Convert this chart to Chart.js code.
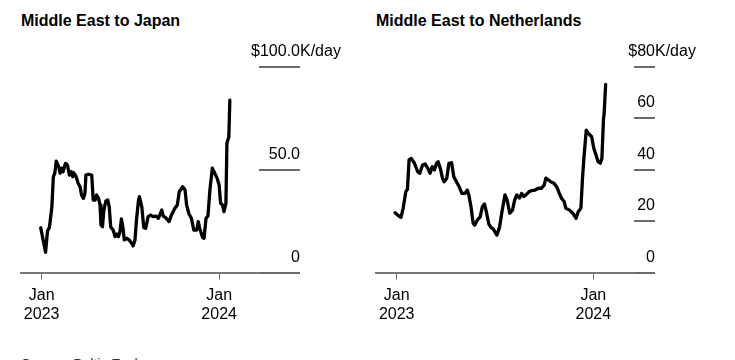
<!DOCTYPE html>
<html>
<head>
<meta charset="utf-8">
<script src="https://cdn.jsdelivr.net/npm/chart.js@4.4.1/dist/chart.umd.min.js"></script>
<style>
  html, body { margin: 0; padding: 0; background: #fff; }
  body { width: 735px; height: 360px; position: relative; overflow: hidden; font-family: "Liberation Sans", Arial, sans-serif; }
  .title { position: absolute; top: 10.5px; font-weight: bold; font-size: 16px; line-height: 20px; color: #000; white-space: nowrap; }
  .source { position: absolute; left: 21px; top: 354px; font-size: 14px; line-height: 20px; color: #333; white-space: nowrap; }
  canvas { position: absolute; top: 0; }
</style>
</head>
<body>
<div class="title" style="left:21px">Middle East to Japan</div>
<div class="title" style="left:376px">Middle East to Netherlands</div>
<div class="source">Source: Baltic Exchange</div>
<canvas id="c1" width="367" height="360" style="left:0;width:367px;height:360px"></canvas>
<canvas id="c2" width="368" height="360" style="left:367px;width:368px;height:360px"></canvas>
<script>
// ---- Data (days counted from 1 Jan 2023) ----
const xTickDays = [0, 365];
const xTickLabels = [["Jan", "2023"], ["Jan", "2024"]];

const japanDays = [-2,3,8,12,16,21,24,27,30,35,38,41,44,49,53,57,61,64,66,71,75,79,82,86,89,91,96,103,106,110,113,117,120,122,125,128,132,136,139,142,147,151,155,158,161,164,167,170,175,180,185,188,192,195,199,201,206,210,214,219,224,229,235,240,247,250,255,262,267,274,279,283,290,295,298,303,308,313,319,322,325,331,334,338,342,346,351,356,361,365,368,372,375,379,381,385,387];
const japanValues = [21.8,15.9,9.9,20.2,22.0,32.0,46.5,48.3,54.2,51.5,48.3,50.7,49.0,53.1,52.3,47.4,49.0,46.6,48.5,46.6,43.4,41.7,37.7,36.1,38.5,47.4,47.8,47.4,35.3,35.3,37.7,36.1,32.9,23.2,22.3,30.4,34.8,35.3,32.0,22.2,20.7,17.5,18.8,17.5,19.9,26.1,22.3,15.9,16.7,15.9,14.3,13.0,15.9,25.6,34.8,36.9,32.0,21.9,21.6,27.2,28.0,27.2,27.5,26.4,30.4,27.5,26.7,24.8,28.0,31.3,32.9,39.3,41.7,40.1,32.9,28.5,26.4,20.7,20.7,24.8,21.6,17.1,16.7,26.4,27.5,40.1,50.7,48.3,45.8,42.6,33.7,32.9,29.6,33.7,62.8,66.0,83.8];
const japanYTicks = [0, 50, 100];
const japanYLabels = ["0", "50.0", "$100.0"];

const nlDays = [-3,4,8,12,17,20,23,27,33,39,43,48,53,58,62,66,70,74,77,81,85,88,93,97,102,106,111,116,121,127,131,134,138,142,145,150,155,159,163,167,171,175,179,186,191,195,201,205,210,215,219,223,228,232,236,240,246,251,257,263,269,274,277,282,286,292,297,302,306,311,314,321,327,333,337,342,345,348,352,356,362,366,370,374,378,381,384,385,388];
const nlValues = [23.3,22.0,21.5,25.0,31.5,32.4,43.8,44.4,42.5,39.2,38.6,41.8,42.2,40.5,38.6,41.2,39.9,42.5,43.1,40.5,36.7,35.3,36.7,42.5,42.7,37.3,35.3,33.4,30.8,30.8,32.1,30.2,25.6,19.2,18.5,20.5,21.7,25.6,26.7,23.1,18.9,17.6,17.0,14.6,17.7,23.1,30.2,28.2,23.1,24.3,28.2,30.2,29.0,30.8,29.6,30.2,31.5,31.9,32.1,32.8,32.8,34.1,36.7,36.0,35.3,34.7,33.4,30.8,28.9,27.6,25.0,24.3,23.1,21.1,23.7,25.0,36.7,45.7,55.4,54.1,52.8,48.3,45.7,43.1,42.5,44.4,60.0,61.2,73.1];
const nlYTicks = [0, 20, 40, 60, 80];
const nlYLabels = ["0", "20", "40", "60", "$80"];

const unitSuffix = "K/day";

// ---- Chart setup ----
const FONT = '"Liberation Sans", Arial, sans-serif';
Chart.defaults.font.family = FONT;
Chart.defaults.color = '#000';
const LABEL_OFFSET = -15.5;
const GRID_COLOR = '#6a6a6a';

const suffixPlugin = {
  id: 'suffix',
  afterDraw(chart) {
    const s = chart.scales.y;
    const ctx = chart.ctx;
    ctx.save();
    ctx.font = '16px ' + FONT;
    ctx.fillStyle = '#000';
    ctx.textAlign = 'left';
    ctx.textBaseline = 'middle';
    ctx.fillText(unitSuffix, s.right, s.getPixelForValue(s.max) + LABEL_OFFSET);
    ctx.restore();
  }
};

function makeChart(id, days, values, yTicks, yLabels, xmin, xmax, pad, yWidth) {
  const data = days.map((d, i) => ({ x: d, y: values[i] }));
  return new Chart(document.getElementById(id), {
    type: 'line',
    data: { datasets: [{ data, borderColor: '#000', borderWidth: 3.3, pointRadius: 0, tension: 0,
      borderJoinStyle: 'round', borderCapStyle: 'round', fill: false }] },
    options: {
      responsive: false, animation: false, events: [],
      layout: { padding: pad },
      plugins: { legend: { display: false }, tooltip: { enabled: false } },
      scales: {
        x: {
          type: 'linear', min: xmin, max: xmax,
          afterBuildTicks: s => { s.ticks = xTickDays.map(v => ({ value: v })); },
          afterFit: s => { s.height = 50; },
          ticks: { autoSkip: false, maxRotation: 0, padding: 6, font: { size: 16 }, color: '#000',
            callback: (v) => xTickLabels[xTickDays.indexOf(v)] },
          grid: { drawOnChartArea: false, drawTicks: true, tickLength: 7, color: GRID_COLOR, lineWidth: 1 },
          border: { display: true, color: '#777', width: 2 }
        },
        y: {
          position: 'right', min: yTicks[0], max: yTicks[yTicks.length - 1],
          afterBuildTicks: s => { s.ticks = yTicks.map(v => ({ value: v })); },
          afterFit: s => { s.width = yWidth; },
          ticks: { mirror: true, crossAlign: 'near', padding: yWidth, labelOffset: LABEL_OFFSET,
            font: { size: 16 }, color: '#000',
            callback: (v) => yLabels[yTicks.indexOf(v)] },
          grid: { drawOnChartArea: false, drawTicks: true, tickLength: yWidth, color: GRID_COLOR, lineWidth: 2 },
          border: { display: false }
        }
      }
    },
    plugins: [suffixPlugin]
  });
}

makeChart('c1', japanDays, japanValues, japanYTicks, japanYLabels, -42.5, 447,
  { left: 21, top: 66.7, right: 67, bottom: 37.3 }, 41);
makeChart('c2', nlDays, nlValues, nlYTicks, nlYLabels, -38.4, 440.6,
  { left: 9, top: 66.7, right: 80, bottom: 37.3 }, 21);
</script>
</body>
</html>
